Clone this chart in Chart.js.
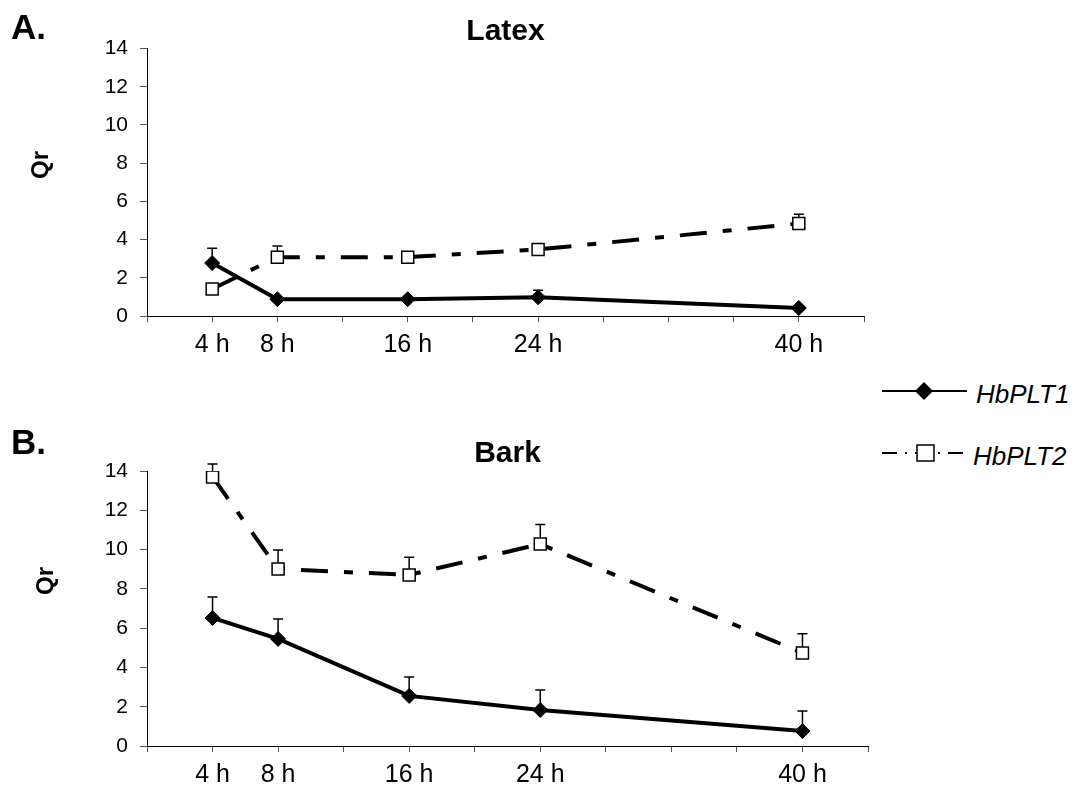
<!DOCTYPE html>
<html>
<head>
<meta charset="utf-8">
<script src="https://cdn.jsdelivr.net/npm/chart.js@4.4.1/dist/chart.umd.min.js"></script>
<style>
  body { margin: 0; background: #fff; font-family: 'Liberation Sans', Arial, sans-serif; }
  #wrap { position: relative; width: 1076px; height: 789px; overflow: hidden; }
  canvas { position: absolute; left: 0; }
  .panel { position: absolute; font-weight: bold; font-size: 35px; line-height: 1; }
  .ylab { position: absolute; font-weight: bold; font-size: 24px; line-height: 1;
          transform: translate(-50%, -50%) rotate(-90deg); }
  .leg { position: absolute; font-style: italic; font-size: 26px; line-height: 1; }
  svg { position: absolute; }
</style>
</head>
<body>
<div id="wrap">
  <canvas id="latex" width="880" height="370" style="top:0"></canvas>
  <canvas id="bark" width="880" height="369" style="top:420px"></canvas>

  <div class="panel" style="left:11px; top:9px">A.</div>
  <div class="panel" style="left:11px; top:424px">B.</div>
  <div class="ylab" style="left:40px; top:165px">Qr</div>
  <div class="ylab" style="left:45px; top:581px">Qr</div>

  <!-- legend -->
  <svg style="left:880px; top:379px" width="92" height="24">
    <line x1="2" y1="12" x2="87" y2="12" stroke="#000" stroke-width="2"/>
    <polygon points="44,3 53,12 44,21 35,12" fill="#000"/>
  </svg>
  <div class="leg" style="left:976px; top:381px">HbPLT1</div>
  <svg style="left:880px; top:441px" width="92" height="24">
    <line x1="2" y1="12" x2="87" y2="12" stroke="#000" stroke-width="2" stroke-dasharray="15,8,2,8"/>
    <rect x="37" y="4" width="17" height="16" fill="#fff" stroke="#000" stroke-width="1.5"/>
  </svg>
  <div class="leg" style="left:973px; top:443px">HbPLT2</div>
</div>

<script>
// sampling times (h)
const hours = [4, 8, 16, 24, 40];

// Latex
const latexPLT1 = [2.77, 0.88, 0.88, 0.98, 0.42];
const latexPLT1Err = [0.78, 0.1, 0.1, 0.37, 0.1];
const latexPLT2 = [1.41, 3.08, 3.08, 3.48, 4.84];
const latexPLT2Err = [0.1, 0.58, 0.1, 0.1, 0.49];

// Bark
const barkPLT1 = [6.52, 5.45, 2.55, 1.83, 0.76];
const barkPLT1Err = [1.07, 1.02, 0.96, 1.02, 1.02];
const barkPLT2 = [13.7, 9.01, 8.71, 10.28, 4.74];
const barkPLT2Err = [0.66, 0.97, 0.9, 1.0, 0.97];

const yTicks = [0, 2, 4, 6, 8, 10, 12, 14];

const FONT = "'Liberation Sans', Arial, sans-serif";

// upper error bars with a small cap, drawn under the markers
const errorBars = {
  id: 'errorBars',
  beforeDatasetsDraw(chart) {
    const { ctx, scales: { x, y } } = chart;
    ctx.save();
    ctx.strokeStyle = '#000';
    ctx.lineWidth = 1.5;
    chart.data.datasets.forEach(ds => {
      if (!ds.errors) return;
      ds.data.forEach((pt, i) => {
        const px = x.getPixelForValue(pt.x);
        const y0 = y.getPixelForValue(pt.y);
        const y1 = y.getPixelForValue(pt.y + ds.errors[i]);
        ctx.beginPath();
        ctx.moveTo(px, y0);
        ctx.lineTo(px, y1);
        ctx.moveTo(px - 5, y1);
        ctx.lineTo(px + 5, y1);
        ctx.stroke();
      });
    });
    ctx.restore();
  }
};

function points(vals) {
  return vals.map((v, i) => ({ x: hours[i], y: v }));
}

function makeChart(id, title, plt1, err1, plt2, err2, opt) {
  return new Chart(document.getElementById(id), {
    type: 'line',
    data: {
      datasets: [{
        label: 'HbPLT1',
        data: points(plt1),
        errors: err1,
        borderColor: '#000',
        borderWidth: 4,
        pointStyle: 'rectRot',
        pointRadius: 7.5,
        pointHoverRadius: 7.5,
        pointBackgroundColor: '#000',
        pointBorderColor: '#000',
        pointBorderWidth: 1,
        tension: 0
      }, {
        label: 'HbPLT2',
        data: points(plt2),
        errors: err2,
        borderColor: '#000',
        borderWidth: 4,
        borderDash: [27, 16, 9, 16],
        pointStyle: 'rect',
        pointRadius: 8.5,
        pointHoverRadius: 8.5,
        pointBackgroundColor: '#fff',
        pointBorderColor: '#000',
        pointBorderWidth: 1.5,
        tension: 0
      }]
    },
    options: {
      responsive: false,
      animation: false,
      events: [],
      layout: { padding: { left: 0, right: opt.padRight, top: 0, bottom: 0 } },
      plugins: {
        legend: { display: false },
        tooltip: { enabled: false },
        title: {
          display: true,
          text: title,
          fullSize: false,
          color: '#000',
          font: { family: FONT, size: 30, weight: 'bold', lineHeight: 1.1 },
          padding: { top: opt.titleTop, bottom: opt.titleBottom }
        }
      },
      scales: {
        x: {
          type: 'linear',
          min: 0,
          max: 44,
          afterFit(scale) { scale.height = opt.xHeight; },
          border: { display: true, color: '#000', width: 1 },
          grid: { display: true, drawOnChartArea: false, drawTicks: true, tickLength: 6, color: '#555' },
          ticks: {
            stepSize: 4,
            autoSkip: false,
            maxRotation: 0,
            color: '#000',
            padding: 8,
            font: { family: FONT, size: 25 },
            callback: v => hours.includes(v) ? v + ' h' : ''
          }
        },
        y: {
          min: 0,
          max: 14,
          afterFit(scale) { scale.width = 147; },
          afterBuildTicks(scale) { scale.ticks = yTicks.map(v => ({ value: v })); },
          border: { display: true, color: '#000', width: 1 },
          grid: { display: true, drawOnChartArea: false, drawTicks: true, tickLength: 7, color: '#555' },
          ticks: {
            color: '#000',
            padding: 12,
            font: { family: FONT, size: 21 }
          }
        }
      }
    },
    plugins: [errorBars]
  });
}

makeChart('latex', 'Latex', latexPLT1, latexPLT1Err, latexPLT2, latexPLT2Err,
  { padRight: 16, titleTop: 15.5, titleBottom: 0, xHeight: 54 });
makeChart('bark', 'Bark', barkPLT1, barkPLT1Err, barkPLT2, barkPLT2Err,
  { padRight: 12, titleTop: 17.5, titleBottom: 0.5, xHeight: 43 });
</script>
</body>
</html>
